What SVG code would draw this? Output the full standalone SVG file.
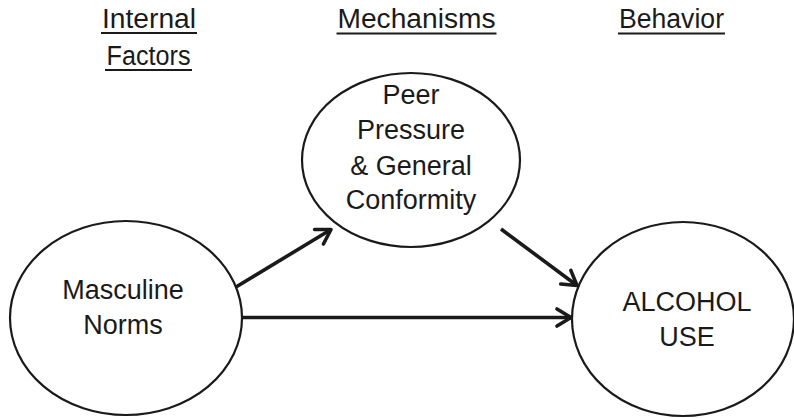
<svg xmlns="http://www.w3.org/2000/svg" width="794" height="418" viewBox="0 0 794 418">
<style>
.node{fill:#fff;stroke:#1a1a1a;stroke-width:2.2}
.lbl{font-family:"Liberation Sans",Arial,sans-serif;font-size:27px;fill:#1a1a1a;text-anchor:middle}
.hdr{font-family:"Liberation Sans",Arial,sans-serif;font-size:27px;fill:#1a1a1a;text-anchor:middle}
.ul{stroke:#1a1a1a;stroke-width:1.8}
.conn{stroke:#1a1a1a;stroke-width:3.6;fill:none}
</style>
<defs>
<marker id="arr" markerUnits="userSpaceOnUse" markerWidth="30" markerHeight="30" refX="0" refY="0" orient="auto" overflow="visible">
<path d="M -14 -8.5 L 0 0 L -14 8.5" fill="none" stroke="#1a1a1a" stroke-width="3.6" stroke-linejoin="round" stroke-linecap="round"/>
</marker>
</defs>
<rect width="794" height="418" fill="#fff"/>
<g id="headers">
<text class="hdr" x="149" y="27.5" textLength="94" lengthAdjust="spacingAndGlyphs">Internal</text>
<line class="ul" x1="101" y1="33" x2="197" y2="33"/>
<text class="hdr" x="148.5" y="64.5" textLength="84" lengthAdjust="spacingAndGlyphs">Factors</text>
<line class="ul" x1="105" y1="70" x2="192" y2="70"/>
<text class="hdr" x="416.5" y="28" textLength="158" lengthAdjust="spacingAndGlyphs">Mechanisms</text>
<line class="ul" x1="336.5" y1="33.5" x2="496.5" y2="33.5"/>
<text class="hdr" x="671.5" y="28" textLength="105" lengthAdjust="spacingAndGlyphs">Behavior</text>
<line class="ul" x1="618" y1="33.5" x2="725" y2="33.5"/>
</g>
<g id="connectors">
<line class="conn" x1="236" y1="287" x2="331" y2="229.5" marker-end="url(#arr)"/>
<line class="conn" x1="501" y1="229" x2="577" y2="285.5" marker-end="url(#arr)"/>
<line class="conn" x1="242" y1="317.5" x2="571" y2="317.5" marker-end="url(#arr)"/>
</g>
<g id="masculine-norms">
<ellipse class="node" cx="126" cy="318" rx="116" ry="97"/>
<text class="lbl" x="123" y="299">Masculine</text>
<text class="lbl" x="123" y="334">Norms</text>
</g>
<g id="peer-pressure">
<ellipse class="node" cx="411" cy="160" rx="109" ry="87"/>
<text class="lbl" x="411" y="104">Peer</text>
<text class="lbl" x="411" y="139">Pressure</text>
<text class="lbl" x="411" y="175">&amp; General</text>
<text class="lbl" x="411" y="209">Conformity</text>
</g>
<g id="alcohol-use">
<ellipse class="node" cx="683" cy="319" rx="111" ry="97"/>
<text class="lbl" x="687" y="311">ALCOHOL</text>
<text class="lbl" x="687" y="346">USE</text>
</g>
</svg>
